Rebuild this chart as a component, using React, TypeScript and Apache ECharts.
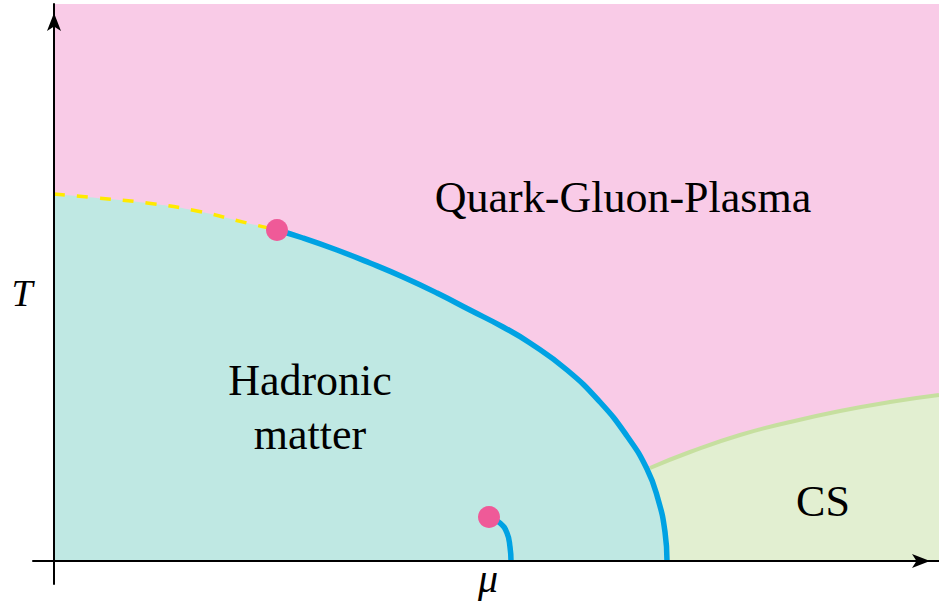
import React, { useEffect, useRef } from "react";
import * as echarts from "echarts";

// Axis extents (chemical potential mu, temperature T), arbitrary units
const muRange = [-21, 885];
const tRange = [-23, 557];

// Crossover part of the hadronic boundary (dashed)
const crossover = [
  [0, 367], [43, 363], [93, 358], [143, 350], [193, 338], [223, 331],
];
// First-order transition line from the critical endpoint down to T = 0
const firstOrder = [
  [223, 331], [249, 323], [283, 311], [316, 298], [349, 284], [383, 268],
  [416, 251], [449, 234], [476, 218], [513, 191], [546, 159], [573, 125],
  [593, 92], [604, 62], [611, 29], [613, 0],
];
// Nuclear liquid-gas transition line
const nuclearLine = [
  [435, 44], [446, 38], [453, 28], [456, 14], [457, 0],
];
// Boundary between the quark-gluon plasma and the colour superconductor
const csLine = [
  [596, 93], [636, 109], [686, 126], [736, 139], [786, 150], [836, 159], [885, 166],
];
// Critical endpoints
const criticalPoints = [
  [223, 331], [435, 44],
];
// Upper edge of the plasma region
const qgpTop = [
  [0, 557], [885, 557],
];
// Phase names and where they sit (data coordinates)
const regionNames = ["Quark-Gluon-Plasma", "Hadronic\nmatter", "CS"];
const regionAnchors = [
  [569, 364], [256, 154], [769, 60],
];
// Axis titles and their anchors (data coordinates)
const axisTitles = ["T", "μ"];
const axisTitleAnchors = [
  [-32, 268], [434, -17],
];
const axisTitleSizes = [38, 40];

const hadronBoundary = crossover.concat(firstOrder.slice(1));

const PINK = "#F9CBE7";
const TEAL = "#BFE8E3";
const GREEN_FILL = "#E2EFD1";
const GREEN_LINE = "#C6DF9F";
const BLUE = "#00A2E3";
const YELLOW = "#FFE900";
const DOT = "#EF5A98";
const SERIF = "Liberation Serif";

const axisLine = (offset: number) => ({
  show: true,
  onZero: true,
  symbol: ["none", "arrow"],
  symbolSize: [10.5, 18],
  symbolOffset: [0, offset],
  lineStyle: { color: "#000", width: 2 },
});

const hiddenAxisParts = {
  axisTick: { show: false },
  axisLabel: { show: false },
  splitLine: { show: false },
};

export default function App() {
  const ref = useRef<HTMLDivElement>(null);

  useEffect(() => {
    if (!ref.current) return;
    const chart = echarts.init(ref.current, undefined, { renderer: "svg" });
    chart.setOption({
      animation: false,
      grid: {
        left: 33, right: 0, top: 4, bottom: 26,
        containLabel: false,
        outerBoundsMode: "none",
      },
      xAxis: {
        type: "value",
        min: muRange[0],
        max: muRange[1],
        z: 10,
        axisLine: axisLine(-9),
        ...hiddenAxisParts,
      },
      yAxis: {
        type: "value",
        min: tRange[0],
        max: tRange[1],
        z: 10,
        axisLine: axisLine(-9),
        ...hiddenAxisParts,
      },
      series: [
        {
          name: "plasma",
          type: "line",
          data: qgpTop,
          symbol: "none",
          silent: true,
          lineStyle: { width: 0 },
          areaStyle: { color: PINK, opacity: 1, origin: 0 },
        },
        {
          name: "superconductor",
          type: "line",
          data: csLine,
          smooth: true,
          symbol: "none",
          silent: true,
          lineStyle: { color: GREEN_LINE, width: 4 },
          areaStyle: { color: GREEN_FILL, opacity: 1, origin: 0 },
        },
        {
          name: "hadrons",
          type: "line",
          data: hadronBoundary,
          smooth: true,
          symbol: "none",
          silent: true,
          lineStyle: { width: 0 },
          areaStyle: { color: TEAL, opacity: 1, origin: 0 },
        },
        {
          name: "crossover",
          type: "line",
          data: crossover,
          smooth: true,
          symbol: "none",
          silent: true,
          lineStyle: { color: YELLOW, width: 3.5, type: [11, 12], cap: "butt" },
        },
        {
          name: "first order",
          type: "line",
          data: firstOrder,
          smooth: true,
          symbol: "none",
          silent: true,
          lineStyle: { color: BLUE, width: 5.5 },
        },
        {
          name: "liquid-gas",
          type: "line",
          data: nuclearLine,
          smooth: true,
          symbol: "none",
          silent: true,
          lineStyle: { color: BLUE, width: 5.5 },
        },
        {
          name: "critical points",
          type: "scatter",
          z: 5,
          data: criticalPoints,
          symbol: "circle",
          symbolSize: 22,
          silent: true,
          itemStyle: { color: DOT, opacity: 1 },
        },
      ],
    });

    // Texts are placed through the grid's own scales
    const toPx = (p: number[]) =>
      chart.convertToPixel({ gridIndex: 0 }, p) as number[];

    const textEl = (
      text: string,
      anchor: number[],
      size: number,
      italic: boolean
    ) => {
      const [x, y] = toPx(anchor);
      const style: any = {
        text,
        fontFamily: SERIF,
        fontSize: size,
        lineHeight: 54,
        fill: "#000",
        align: "center",
        verticalAlign: "middle",
      };
      if (italic) style.fontStyle = "italic";
      return { type: "text", x, y, z: 100, silent: true, style };
    };

    chart.setOption({
      graphic: [
        ...regionNames.map((n, i) => textEl(n, regionAnchors[i], 44, false)),
        ...axisTitles.map((n, i) =>
          textEl(n, axisTitleAnchors[i], axisTitleSizes[i], true)
        ),
      ],
    });

    return () => chart.dispose();
  }, []);

  return (
    <div
      ref={ref}
      style={{ position: "fixed", left: 0, top: 0, width: 939, height: 610, background: "#fff" }}
    />
  );
}
